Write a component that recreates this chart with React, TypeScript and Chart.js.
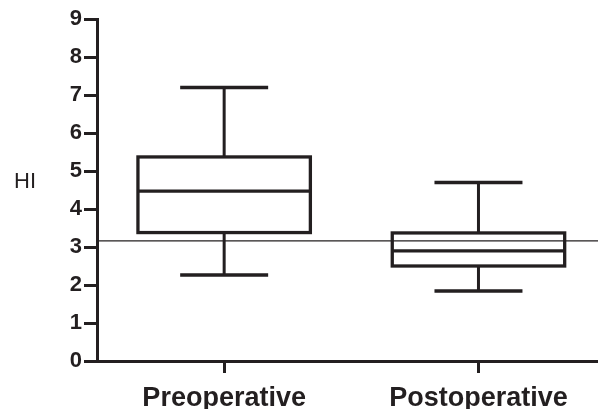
import React, { useEffect, useRef } from 'react';
import Chart from 'chart.js/auto';

// Box plot values
const categories = ['Preoperative', 'Postoperative'];
const whiskerLow = [2.26, 1.84];
const quartile1 = [3.38, 2.5];
const medians = [4.47, 2.9];
const quartile3 = [5.37, 3.37];
const whiskerHigh = [7.2, 4.7];
const referenceLine = 3.16;
const yTickValues = [0, 1, 2, 3, 4, 5, 6, 7, 8, 9];
const yTitle = 'HI';

const INK = '#231f20';
const FONT = "'Liberation Sans', Arial, sans-serif";

const boxPlotPlugin = {
  id: 'boxPlot',
  afterDatasetsDraw(chart: any) {
    const { ctx, chartArea } = chart;
    const x = chart.scales.x;
    const y = chart.scales.y;
    const boxHalf = 0.339;
    const capHalf = 0.173;
    ctx.save();
    ctx.strokeStyle = INK;
    ctx.lineCap = 'butt';

    categories.forEach((_, i) => {
      const pos = i + 1;
      const xc = x.getPixelForValue(pos);
      const xl = x.getPixelForValue(pos - boxHalf);
      const xr = x.getPixelForValue(pos + boxHalf);
      const cl = x.getPixelForValue(pos - capHalf);
      const cr = x.getPixelForValue(pos + capHalf);
      const yLo = y.getPixelForValue(whiskerLow[i]);
      const yQ1 = y.getPixelForValue(quartile1[i]);
      const yMed = y.getPixelForValue(medians[i]);
      const yQ3 = y.getPixelForValue(quartile3[i]);
      const yHi = y.getPixelForValue(whiskerHigh[i]);

      // whiskers
      ctx.lineWidth = 3;
      ctx.beginPath();
      ctx.moveTo(xc, yQ3);
      ctx.lineTo(xc, yHi);
      ctx.moveTo(xc, yQ1);
      ctx.lineTo(xc, yLo);
      ctx.stroke();

      // caps
      ctx.lineWidth = 3.5;
      ctx.beginPath();
      ctx.moveTo(cl, yHi);
      ctx.lineTo(cr, yHi);
      ctx.moveTo(cl, yLo);
      ctx.lineTo(cr, yLo);
      ctx.stroke();

      // box + median
      ctx.lineWidth = 3.3;
      ctx.strokeRect(xl, yQ3, xr - xl, yQ1 - yQ3);
      ctx.beginPath();
      ctx.moveTo(xl, yMed);
      ctx.lineTo(xr, yMed);
      ctx.stroke();
    });

    // reference line
    const yr = y.getPixelForValue(referenceLine);
    ctx.lineWidth = 1.3;
    ctx.beginPath();
    ctx.moveTo(chartArea.left, yr);
    ctx.lineTo(chartArea.right, yr);
    ctx.stroke();

    // horizontal y title
    ctx.fillStyle = INK;
    ctx.font = `22px ${FONT}`;
    ctx.textAlign = 'center';
    ctx.textBaseline = 'middle';
    ctx.fillText(yTitle, 25, (chartArea.top + chartArea.bottom) / 2 - 8);
    ctx.restore();
  },
};

const App: React.FC = () => {
  const canvasRef = useRef<HTMLCanvasElement | null>(null);

  useEffect(() => {
    document.body.style.margin = '0';
    if (!canvasRef.current) return;
    const chart = new Chart(canvasRef.current, {
      type: 'scatter',
      data: { datasets: [] },
      options: {
        animation: false,
        responsive: true,
        maintainAspectRatio: false,
        layout: { padding: { top: 19, right: 0, left: 0, bottom: 0 } },
        plugins: { legend: { display: false }, tooltip: { enabled: false } },
        scales: {
          x: {
            type: 'linear',
            min: 0.5,
            max: 2.47,
            afterBuildTicks: (scale: any) => {
              scale.ticks = categories.map((_, i) => ({ value: i + 1 }));
            },
            afterFit: (scale: any) => {
              scale.height = 48;
            },
            border: { display: true, color: INK, width: 3 },
            grid: {
              drawOnChartArea: false,
              drawTicks: true,
              tickLength: 12,
              tickWidth: 3,
              tickColor: INK,
            },
            ticks: {
              color: INK,
              padding: 9,
              maxRotation: 0,
              font: { family: FONT, size: 27, weight: 'bold' },
              callback: (value: any) => categories[Math.round(value) - 1] ?? '',
            },
          },
          y: {
            type: 'linear',
            min: 0,
            max: 9,
            afterBuildTicks: (scale: any) => {
              scale.ticks = yTickValues.map((v) => ({ value: v }));
            },
            afterFit: (scale: any) => {
              scale.width = 97;
            },
            border: { display: true, color: INK, width: 3 },
            grid: {
              drawOnChartArea: false,
              drawTicks: true,
              tickLength: 13,
              tickWidth: 3,
              tickColor: INK,
            },
            ticks: {
              color: INK,
              padding: 2,
              font: { family: FONT, size: 22, weight: 'bold' },
            },
          },
        },
      },
      plugins: [boxPlotPlugin],
    });
    return () => chart.destroy();
  }, []);

  return (
    <div style={{ width: 598, height: 409, position: 'relative', background: '#fff' }}>
      <canvas ref={canvasRef} />
    </div>
  );
};

export default App;
